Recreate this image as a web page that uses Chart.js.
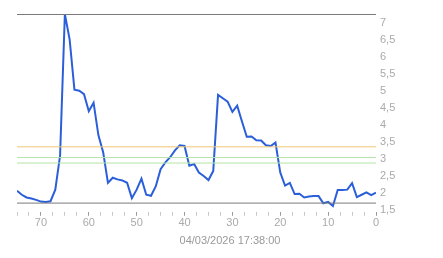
<!DOCTYPE html>
<html><head><meta charset="utf-8">
<script src="https://cdn.jsdelivr.net/npm/chart.js@4.4.1/dist/chart.umd.min.js"></script>
<style>html,body{margin:0;padding:0;background:#fff}#wrap{width:443px;height:258px}</style>
</head><body><div id="wrap"><canvas id="c" width="443" height="258"></canvas></div>
<script>
const minutesAgo = [75,74,73,72,71,70,69,68,67,66,65,64,63,62,61,60,59,58,57,56,55,54,53,52,51,50,49,48,47,46,45,44,43,42,41,40,39,38,37,36,35,34,33,32,31,30,29,28,27,26,25,24,23,22,21,20,19,18,17,16,15,14,13,12,11,10,9,8,7,6,5,4,3,2,1,0];
const values = [2.07,1.95,1.87,1.84,1.80,1.75,1.74,1.76,2.1,3.1,7.25,6.5,5.03,5.0,4.9,4.4,4.65,3.7,3.2,2.3,2.45,2.4,2.37,2.3,1.85,2.1,2.42,1.95,1.92,2.2,2.7,2.9,3.05,3.25,3.4,3.38,2.8,2.85,2.6,2.5,2.38,2.65,4.88,4.78,4.68,4.38,4.56,4.1,3.65,3.66,3.55,3.54,3.4,3.38,3.48,2.6,2.22,2.3,1.97,1.98,1.87,1.9,1.91,1.91,1.7,1.74,1.62,2.09,2.09,2.1,2.29,1.88,1.95,2.02,1.94,2.01];
const refLines = [
  {value: 7.235, color: '#7a7a7a'},
  {value: 1.705, color: '#7a7a7a'},
  {value: 3.355, color: '#f0c674'},
  {value: 3.04, color: '#b5e3a8'},
  {value: 2.88, color: '#b5e3a8'}
];
const yTickValues = [1.5,2,2.5,3,3.5,4,4.5,5,5.5,6,6.5,7];
const xLabelValues = [0,10,20,30,40,50,60,70];
const titleText = '04/03/2026 17:38:00';

const datasets = [];
refLines.forEach(r => datasets.push({
  data: [{x: 75, y: r.value}, {x: 0, y: r.value}],
  borderColor: r.color, borderWidth: 1, pointRadius: 0, tension: 0
}));
datasets.push({
  data: minutesAgo.map((m, i) => ({x: m, y: values[i]})),
  borderColor: '#2b5fd9', borderWidth: 2, pointRadius: 0, tension: 0
});

new Chart(document.getElementById('c'), {
  type: 'line',
  data: {datasets},
  options: {
    responsive: false, animation: false,
    layout: {padding: {left: 17, top: 14, right: 0, bottom: 0}},
    plugins: {
      legend: {display: false}, tooltip: {enabled: false},
      title: {display: true, position: 'bottom', text: titleText, color: '#999',
        font: {family: 'Liberation Sans, Arial, sans-serif', size: 11, weight: 'normal'},
        padding: {top: 1, bottom: 10}}
    },
    scales: {
      x: {
        type: 'linear', reverse: true, min: 0, max: 75,
        border: {display: false},
        grid: {drawOnChartArea: false, drawTicks: true, tickLength: 4,
          tickColor: ctx => (ctx.tick && ctx.tick.value % 10 === 0) ? '#999' : '#c8c8c8'},
        afterBuildTicks: s => { const t = []; for (let v = 0; v <= 75; v += 2.5) t.push({value: v}); s.ticks = t; },
        ticks: {
          autoSkip: false, maxRotation: 0, padding: 1, color: '#aaa',
          font: {family: 'Liberation Sans, Arial, sans-serif', size: 11},
          callback: v => xLabelValues.includes(v) ? String(v) : ''
        },
        afterFit: s => { s.height = 22; }
      },
      y: {
        type: 'linear', position: 'right', min: 1.45, max: 7.25,
        border: {display: false},
        grid: {display: false, drawTicks: false},
        afterBuildTicks: s => { s.ticks = yTickValues.map(v => ({value: v})); },
        ticks: {
          padding: 4, color: '#aaa', crossAlign: 'near',
          font: {family: 'Liberation Sans, Arial, sans-serif', size: 11},
          callback: v => String(v).replace('.', ',')
        },
        afterFit: s => { s.width = 67; }
      }
    }
  }
});
</script></body></html>
